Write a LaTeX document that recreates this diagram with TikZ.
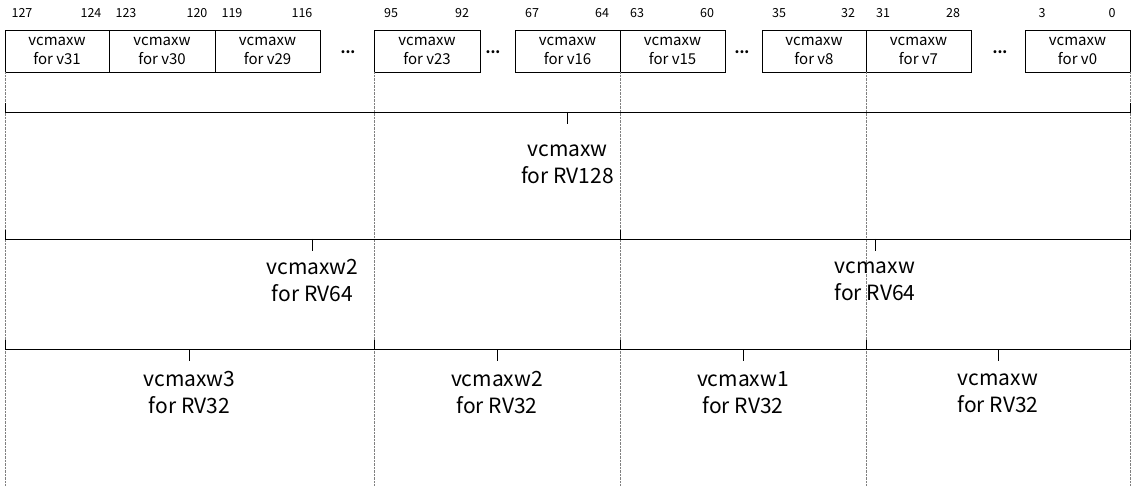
\documentclass[tikz,border=0pt]{standalone}
\usepackage{fontspec}
\setmainfont{Noto Sans CJK JP}
\newcommand{\regbox}[4] % left, right, name, label
{
	\node[field, minimum width={(#2-#1)*1pt}] (#3) at ({(#1+#2)/2},51) {vcmaxw\\for #4};
}
\newcommand{\bits}[4] % left, right, high bit, low bit
{
	\node[bitno] at (#1+17,13) {#3};
	\node[bitno] at (#2-18,13) {#4};
}
\newcommand{\bracket}[6] % left, right, y, label y, name, label
{
	\draw (#1,#3-9) -- (#1,#3) -- (#2,#3) -- (#2,#3-9);
	\draw ({(#1+#2)/2},#3) -- ({(#1+#2)/2},#3+12);
	\node[part] (#5) at ({(#1+#2)/2},#4) {#6};
}
\begin{document}
\begin{tikzpicture}[x=1pt, y=-1pt,
	field/.style={draw, minimum height=42pt, inner sep=0pt, align=center, font=\fontsize{15}{19}\selectfont},
	bitno/.style={font=\fontsize{12.5}{14}\selectfont},
	part/.style={align=center, font=\fontsize{21}{27}\selectfont},
	gap/.style={font=\bfseries\fontsize{14}{14}\selectfont}]
	\useasboundingbox (0,0) rectangle (1142,486);
	% register fields
	\regbox{5}{109}{f31}{v31}
	\regbox{109}{215}{f30}{v30}
	\regbox{215}{320}{f29}{v29}
	\regbox{374}{480}{f23}{v23}
	\regbox{515}{620}{f16}{v16}
	\regbox{620}{725}{f15}{v15}
	\regbox{762}{866}{f8}{v8}
	\regbox{866}{971}{f7}{v7}
	\regbox{1025}{1130}{f0}{v0}
	\node[gap] (g1) at (348,52) {...};
	\node[gap] (g2) at (493,52) {...};
	\node[gap] (g3) at (742,52) {...};
	\node[gap] (g4) at (1000,52) {...};
	% bit numbers
	\bits{5}{109}{127}{124}
	\bits{109}{215}{123}{120}
	\bits{215}{320}{119}{116}
	\bits{374}{480}{95}{92}
	\bits{515}{620}{67}{64}
	\bits{620}{725}{63}{60}
	\bits{762}{866}{35}{32}
	\bits{866}{971}{31}{28}
	\bits{1025}{1130}{3}{0}
	% lane borders
	\draw[densely dotted, gray] (5,72) -- (5,486);
	\draw[densely dotted, gray] (374,72) -- (374,486);
	\draw[densely dotted, gray] (620,72) -- (620,486);
	\draw[densely dotted, gray] (866,72) -- (866,486);
	\draw[densely dotted, gray] (1130,72) -- (1130,486);
	% groupings
	\bracket{5}{1130}{112}{164}{rv128}{vcmaxw\\for RV128}
	\bracket{5}{620}{239}{281}{rv64b}{vcmaxw2\\for RV64}
	\bracket{620}{1130}{239}{281}{rv64a}{vcmaxw\\for RV64}
	\bracket{5}{374}{349}{393}{rv32d}{vcmaxw3\\for RV32}
	\bracket{374}{620}{349}{393}{rv32c}{vcmaxw2\\for RV32}
	\bracket{620}{866}{349}{393}{rv32b}{vcmaxw1\\for RV32}
	\bracket{866}{1130}{349}{393}{rv32a}{vcmaxw\\for RV32}
\end{tikzpicture}
\end{document}
